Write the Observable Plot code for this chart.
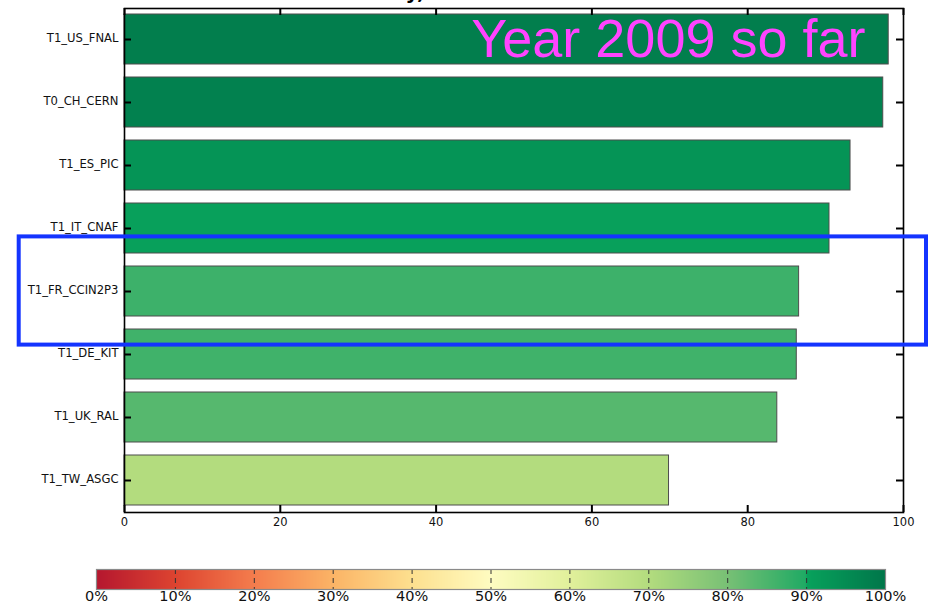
<!DOCTYPE html>
<html>
<head>
<meta charset="utf-8">
<script src="https://cdn.jsdelivr.net/npm/d3@7"></script>
<script src="https://cdn.jsdelivr.net/npm/@observablehq/plot@0.6"></script>
<style>
  html, body { margin: 0; padding: 0; background: #fff; }
  #chart svg { display: block; }
</style>
</head>
<body>
<div id="chart"></div>
<script>
// Site availability (%) for the CMS Tier-0/Tier-1 sites
const sites = ["T1_US_FNAL", "T0_CH_CERN", "T1_ES_PIC", "T1_IT_CNAF",
               "T1_FR_CCIN2P3", "T1_DE_KIT", "T1_UK_RAL", "T1_TW_ASGC"];
const availability = [98.1, 97.4, 93.2, 90.5, 86.6, 86.3, 83.8, 69.9];
const highlighted = ["T1_FR_CCIN2P3"];

const xTicks = [0, 20, 40, 60, 80, 100];
const barTicks = [0, 10, 20, 30, 40, 50, 60, 70, 80, 90, 100];

const rows = sites.map((site, i) => ({site, value: availability[i]}));

// red -> yellow -> green availability ramp
const colorScale = {
  type: "linear",
  domain: [0, 10, 20, 30, 40, 50, 60, 70, 80, 89.9, 90, 100],
  range: ["#b5172f", "#dd4430", "#f47d4d", "#fbb466", "#fde08f", "#fefcc1",
          "#e1f09b", "#b3dc7e", "#78c075", "#20aa64", "#08a25c", "#00764a"],
  interpolate: "rgb",
  clamp: true
};

const W = 934;
const mTop = 8, mLeft = 124, mRight = 31, mBottom = 28, H = 540;
const innerW = W - mLeft - mRight;
const innerH = H - mTop - mBottom;
const tick = 7;

const main = Plot.plot({
  width: W,
  height: H,
  marginTop: mTop,
  marginLeft: mLeft,
  marginRight: mRight,
  marginBottom: mBottom,
  style: {fontFamily: "DejaVu Sans", background: "white"},
  x: {domain: [0, 100]},
  y: {domain: sites, paddingInner: 0.2, paddingOuter: 0.1},
  color: colorScale,
  marks: [
    // title (runs off the top of the page)
    Plot.text(["Tier-1 Site Availability,"], {
      frameAnchor: "top-left", textAnchor: "end", lineAnchor: "top",
      dx: 300, dy: -24, fontSize: 20, fontWeight: "bold", fill: "#000"
    }),
    Plot.barX(rows, {
      x: "value", y: "site", fill: "value",
      stroke: "#4d4d4d", strokeWidth: 1
    }),
    Plot.frame({stroke: "#000", strokeWidth: 1.6}),
    // inward ticks on all four sides
    Plot.ruleX(xTicks, {x: d => d, stroke: "#000", strokeWidth: 2, insetTop: innerH - tick}),
    Plot.ruleX(xTicks, {x: d => d, stroke: "#000", strokeWidth: 2, insetBottom: innerH - tick}),
    Plot.ruleY(sites, {y: d => d, stroke: "#000", strokeWidth: 2, insetRight: innerW - tick}),
    Plot.ruleY(sites, {y: d => d, stroke: "#000", strokeWidth: 2, insetLeft: innerW - tick}),
    Plot.axisX(xTicks, {anchor: "bottom", tickSize: 0, tickPadding: 5.5, fontSize: 11.5, fill: "#111", label: null}),
    Plot.axisY({anchor: "left", tickSize: 0, tickPadding: 6, dy: -1.5, fontSize: 11.6, fill: "#111", label: null}),
    Plot.text(["Year 2009 so far"], {
      frameAnchor: "top-right", textAnchor: "end", lineAnchor: "top",
      dx: -38, dy: 10.5, fontSize: 54, fontFamily: "Liberation Sans", fill: "#ff44ff"
    }),
    // highlight box around the CCIN2P3 row
    Plot.barX(highlighted, {
      x1: 0, x2: 100, y: d => d, fill: "none", stroke: "#1434ff", strokeWidth: 4,
      insetTop: -29.6, insetBottom: -28.6, insetLeft: -105.3, insetRight: -23
    })
  ]
});

const cbar = Plot.plot({
  width: W,
  height: 68,
  marginTop: 29,
  marginBottom: 19,
  marginLeft: 96,
  marginRight: 49,
  style: {fontFamily: "DejaVu Sans", background: "white"},
  x: {domain: [0, 100], axis: null},
  y: {domain: [0, 1], axis: null},
  color: colorScale,
  marks: [
    Plot.raster({fill: (x, y) => x, x1: 0, x2: 100, y1: 0, y2: 1, width: 789, height: 1, imageRendering: "auto"}),
    Plot.ruleX(barTicks.slice(1, -1), {x: d => d, stroke: "#333", strokeWidth: 1, strokeDasharray: "5,4"}),
    Plot.frame({stroke: "#8a8a8a", strokeWidth: 1.2}),
    Plot.text(barTicks, {x: d => d, text: d => `${d}%`, frameAnchor: "bottom", dy: 11.5, fontSize: 14.5, fill: "#111"})
  ]
});

document.getElementById("chart").append(main, cbar);
</script>
</body>
</html>
